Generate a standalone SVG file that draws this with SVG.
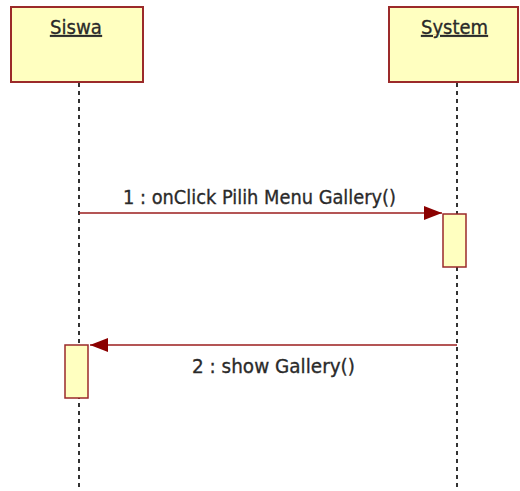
<svg xmlns="http://www.w3.org/2000/svg" width="520" height="491" viewBox="0 0 520 491">
<style>
.obj{fill:#FFFFC0;stroke:#9B2A2A;stroke-width:2}
.act{fill:#FFFFC0;stroke:#9B2A2A;stroke-width:1.5}
.life{stroke:#333;stroke-width:2;stroke-dasharray:4,4;fill:none}
.msg{stroke:#9B1C1C;stroke-width:1.5;fill:none}
.t{font-family:"DejaVu Sans Condensed","DejaVu Sans",sans-serif;font-size:19px;fill:#2a2a2a;stroke:#2a2a2a;stroke-width:0.3}
</style>
<defs>
<marker id="ah" viewBox="0 0 18 14" refX="18" refY="7" markerWidth="18" markerHeight="14" markerUnits="userSpaceOnUse" orient="auto">
<path d="M0,0 L18,7 L0,14 Z" fill="#8B0000"/>
</marker>
</defs>
<g id="lifelines">
<line class="life" x1="79" y1="83" x2="79" y2="491"/>
<line class="life" x1="457" y1="83" x2="457" y2="491"/>
</g>
<g id="siswa">
<rect class="obj" x="11" y="7" width="132" height="75"/>
<text class="t" x="50" y="34" textLength="52" lengthAdjust="spacingAndGlyphs" text-decoration="underline">Siswa</text>
</g>
<g id="system">
<rect class="obj" x="389" y="7" width="129" height="75"/>
<text class="t" x="421" y="34" textLength="67" lengthAdjust="spacingAndGlyphs" text-decoration="underline">System</text>
</g>
<g id="act-system">
<rect class="act" x="443" y="214" width="23" height="53"/>
</g>
<g id="act-siswa">
<rect class="act" x="65" y="345" width="23" height="53"/>
</g>
<g id="connectors">
<line class="msg" x1="79" y1="213" x2="442" y2="213" marker-end="url(#ah)"/>
<text class="t" x="123" y="204" textLength="273" lengthAdjust="spacingAndGlyphs">1 : onClick Pilih Menu Gallery()</text>
<line class="msg" x1="457" y1="345" x2="90" y2="345" marker-end="url(#ah)"/>
<text class="t" x="192" y="373" textLength="163" lengthAdjust="spacingAndGlyphs">2 : show Gallery()</text>
</g>
</svg>
